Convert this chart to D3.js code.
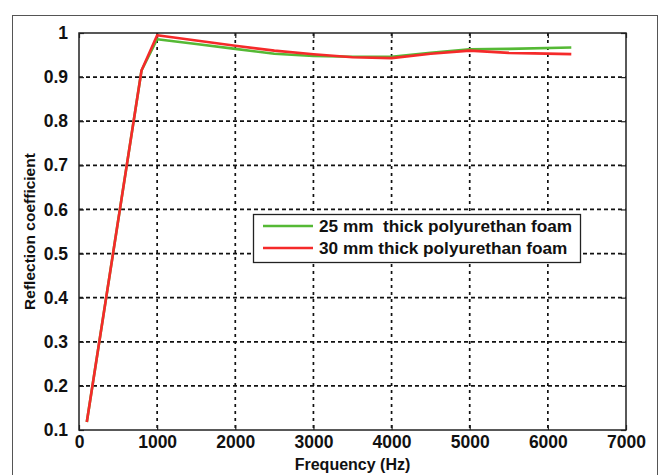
<!DOCTYPE html>
<html>
<head>
<meta charset="utf-8">
<script src="https://cdn.jsdelivr.net/npm/d3@7"></script>
<style>
  body { margin: 0; background: #fff; }
  text { font-family: "Liberation Sans", Arial, sans-serif; font-weight: bold; fill: #111; }
</style>
</head>
<body>
<div id="vis"></div>
<script>
// Measured reflection coefficient vs frequency for two foam thicknesses
const frequency = [100, 800, 1000, 1500, 2000, 2500, 3000, 3500, 4000, 4500, 5000, 5500, 6300];
const foam25 = [0.118, 0.915, 0.986, 0.975, 0.964, 0.953, 0.948, 0.946, 0.946, 0.955, 0.963, 0.964, 0.967];
const foam30 = [0.118, 0.915, 0.995, 0.983, 0.971, 0.960, 0.952, 0.945, 0.943, 0.953, 0.960, 0.955, 0.952];
const xTicks = [0, 1000, 2000, 3000, 4000, 5000, 6000, 7000];
const yTicks = [0.1, 0.2, 0.3, 0.4, 0.5, 0.6, 0.7, 0.8, 0.9, 1];
const seriesNames = ["25 mm  thick polyurethan foam", "30 mm thick polyurethan foam"];
const seriesColors = ["#55b935", "#f52a2a"];

const W = 660, H = 475;
const margin = { top: 33, right: 34, bottom: 45, left: 79 };
const width = W - margin.left - margin.right;
const height = H - margin.top - margin.bottom;

const svg = d3.select("#vis").append("svg")
  .attr("width", W)
  .attr("height", H);

// outer figure frame
svg.append("rect")
  .attr("x", 12.5).attr("y", 15.5)
  .attr("width", 645).attr("height", 480)
  .attr("fill", "none").attr("stroke", "#555").attr("stroke-width", 1);

const g = svg.append("g").attr("transform", `translate(${margin.left},${margin.top})`);

const x = d3.scaleLinear().domain([0, 7000]).range([0, width]);
const y = d3.scaleLinear().domain([0.1, 1]).range([height, 0]);

// dotted grid
g.append("g").selectAll("line")
  .data(xTicks.slice(1, -1))
  .join("line")
  .attr("x1", d => x(d)).attr("x2", d => x(d))
  .attr("y1", 0).attr("y2", height)
  .attr("stroke", "#111").attr("stroke-width", 1.7)
  .attr("stroke-dasharray", "3,4");

g.append("g").selectAll("line")
  .data(yTicks.slice(1, -1))
  .join("line")
  .attr("x1", 0).attr("x2", width)
  .attr("y1", d => y(d)).attr("y2", d => y(d))
  .attr("stroke", "#111").attr("stroke-width", 1.7)
  .attr("stroke-dasharray", "4,3");

// box axes with inward ticks on all sides
const tickStyle = sel => {
  sel.select(".domain").remove();
  sel.selectAll(".tick line").attr("stroke", "#222").attr("stroke-width", 1.2);
};

g.append("g")
  .attr("transform", `translate(0,${height})`)
  .call(d3.axisBottom(x).tickValues(xTicks).tickSize(-5).tickPadding(6).tickFormat(d3.format("d")))
  .call(tickStyle)
  .selectAll("text")
  .attr("font-size", 17.5).attr("dy", "0.71em");

g.append("g")
  .call(d3.axisTop(x).tickValues(xTicks).tickSize(-5).tickFormat(""))
  .call(tickStyle);

g.append("g")
  .call(d3.axisLeft(y).tickValues(yTicks).tickSize(-5).tickPadding(11).tickFormat(d => d === 1 ? "1" : d3.format(".1f")(d)))
  .call(tickStyle)
  .selectAll("text")
  .attr("font-size", 17.5);

g.append("g")
  .attr("transform", `translate(${width},0)`)
  .call(d3.axisRight(y).tickValues(yTicks).tickSize(-5).tickFormat(""))
  .call(tickStyle);

g.append("rect")
  .attr("width", width).attr("height", height)
  .attr("fill", "none").attr("stroke", "#222").attr("stroke-width", 1.5);

// curves
const line = d3.line()
  .x((d, i) => x(frequency[i]))
  .y(d => y(d));

[foam25, foam30].forEach((vals, i) => {
  g.append("path")
    .datum(vals)
    .attr("d", line)
    .attr("fill", "none")
    .attr("stroke", seriesColors[i])
    .attr("stroke-width", 2.6)
    .attr("stroke-linejoin", "round");
});

// axis titles
svg.append("text")
  .attr("x", margin.left + width / 2).attr("y", 470)
  .attr("text-anchor", "middle").attr("font-size", 16)
  .text("Frequency (Hz)");

svg.append("text")
  .attr("transform", `translate(35,${margin.top + height / 2}) rotate(-90)`)
  .attr("text-anchor", "middle").attr("font-size", 15.5)
  .text("Reflection coefficient");

// legend
const legend = svg.append("g").attr("transform", "translate(253,214)");
legend.append("rect")
  .attr("x", 0.5).attr("y", 0.5)
  .attr("width", 327).attr("height", 48)
  .attr("fill", "#fff").attr("stroke", "#222").attr("stroke-width", 1.3);

seriesNames.forEach((name, i) => {
  const row = legend.append("g").attr("transform", `translate(0,${12 + i * 22})`);
  row.append("line")
    .attr("x1", 10).attr("x2", 60)
    .attr("stroke", seriesColors[i]).attr("stroke-width", 2.6);
  row.append("text")
    .attr("x", 66).attr("dy", "0.36em")
    .attr("font-size", 17.2)
    .style("white-space", "pre")
    .text(name);
});
</script>
</body>
</html>
